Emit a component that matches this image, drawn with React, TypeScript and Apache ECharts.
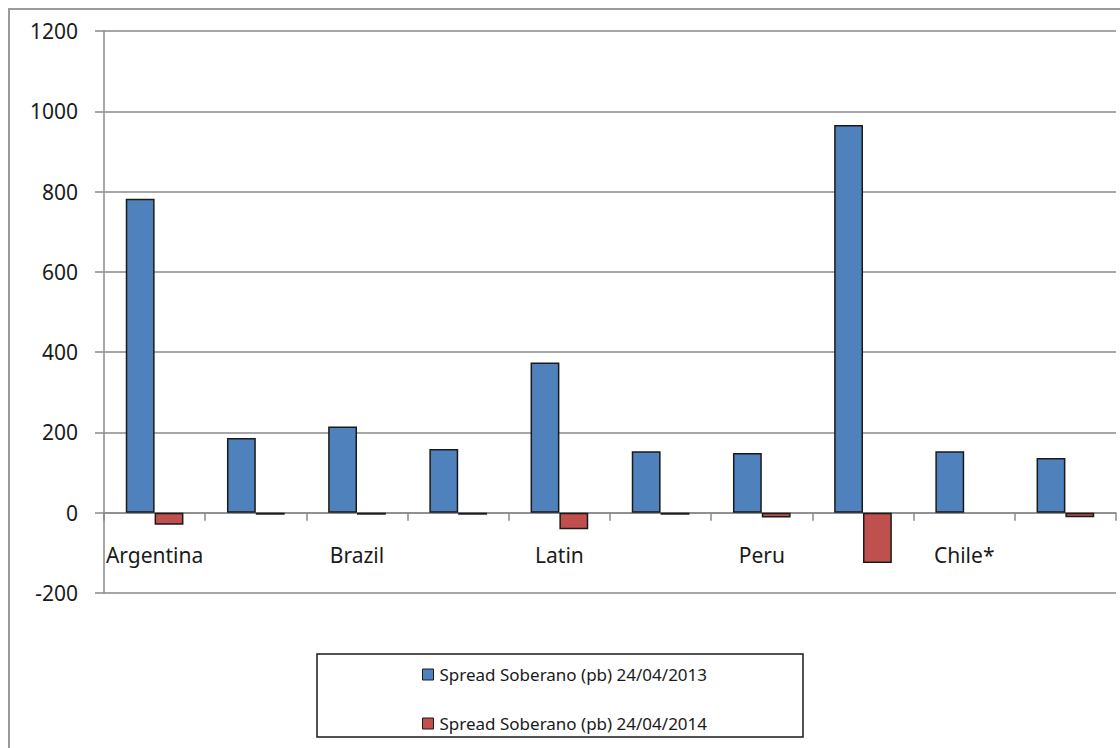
import React, { useEffect, useRef } from "react";
import * as echarts from "echarts";

const categories = ["Argentina", "Colombia", "Brazil", "Mexico", "Latin", "Panama", "Peru", "Venezuela", "Chile*", "Uruguay"];
const series2013 = [782, 186, 215, 159, 374, 153, 149, 966, 153, 136];
const series2014: (number | null)[] = [-30, -5, -5, -5, -41, -5, -12, -125, null, -11];
const seriesNames = ["Spread Soberano (pb) 24/04/2013", "Spread Soberano (pb) 24/04/2014"];
const yMin = -200;
const yMax = 1200;
const yStep = 200;

const FONT = "Noto Sans";

export default function App() {
  const ref = useRef<HTMLDivElement>(null);
  useEffect(() => {
    if (!ref.current) return;
    const chart = echarts.init(ref.current, null, { renderer: "svg" });
    chart.setOption({
      animation: false,
      backgroundColor: "#ffffff",
      textStyle: { fontFamily: FONT },
      grid: { left: 104, right: 4, top: 31, bottom: 155, containLabel: false },
      graphic: [
        {
          type: "rect",
          shape: { x: 9, y: 9, width: 1200, height: 900 },
          style: { fill: "none", stroke: "#9a9a9a", lineWidth: 2 },
          silent: true,
          z: 0,
        },
        {
          type: "rect",
          shape: { x: 317, y: 654, width: 486, height: 83 },
          style: { fill: "#ffffff", stroke: "#1a1a1a", lineWidth: 1.5 },
          silent: true,
          z: 1,
        },
      ],
      legend: {
        orient: "vertical",
        left: 422,
        top: 666,
        padding: 0,
        itemWidth: 11,
        itemHeight: 11,
        itemGap: 32,
        icon: "rect",
        itemStyle: { borderColor: "#1a1a1a", borderWidth: 1 },
        textStyle: { fontFamily: FONT, fontSize: 17, color: "#1a1a1a", lineHeight: 16, padding: [0, 0, 0, 1] },
        z: 5,
      },
      xAxis: {
        type: "category",
        data: categories,
        boundaryGap: true,
        axisLine: { onZero: true, lineStyle: { color: "#8a8a8a", width: 1.5 } },
        axisTick: { show: true, interval: 0, length: 8, lineStyle: { color: "#8a8a8a", width: 1.5 } },
        axisLabel: { interval: 1, margin: -49, fontSize: 21, color: "#1a1a1a", fontFamily: FONT },
        splitLine: { show: false },
      },
      yAxis: {
        type: "value",
        min: yMin,
        max: yMax,
        interval: yStep,
        axisLine: { show: true, lineStyle: { color: "#8a8a8a", width: 1.5 } },
        axisTick: { show: true, length: 9, lineStyle: { color: "#8a8a8a", width: 1.5 } },
        axisLabel: { margin: 26, fontSize: 21, color: "#1a1a1a", fontFamily: FONT, formatter: (v: number) => String(v) },
        splitLine: { show: true, lineStyle: { color: "#8a8a8a", width: 1.5 } },
      },
      series: [
        {
          name: seriesNames[0],
          type: "bar",
          data: series2013,
          barGap: "0%",
          barCategoryGap: "43%",
          itemStyle: { color: "#4f81bd", borderColor: "#1a1a1a", borderWidth: 1.5 },
        },
        {
          name: seriesNames[1],
          type: "bar",
          data: series2014,
          barGap: "0%",
          barCategoryGap: "43%",
          itemStyle: { color: "#c0504d", borderColor: "#1a1a1a", borderWidth: 1.5 },
        },
      ],
    });
    return () => chart.dispose();
  }, []);
  return (
    <div
      ref={ref}
      style={{ position: "fixed", left: 0, top: 0, width: 1120, height: 748 }}
    />
  );
}
